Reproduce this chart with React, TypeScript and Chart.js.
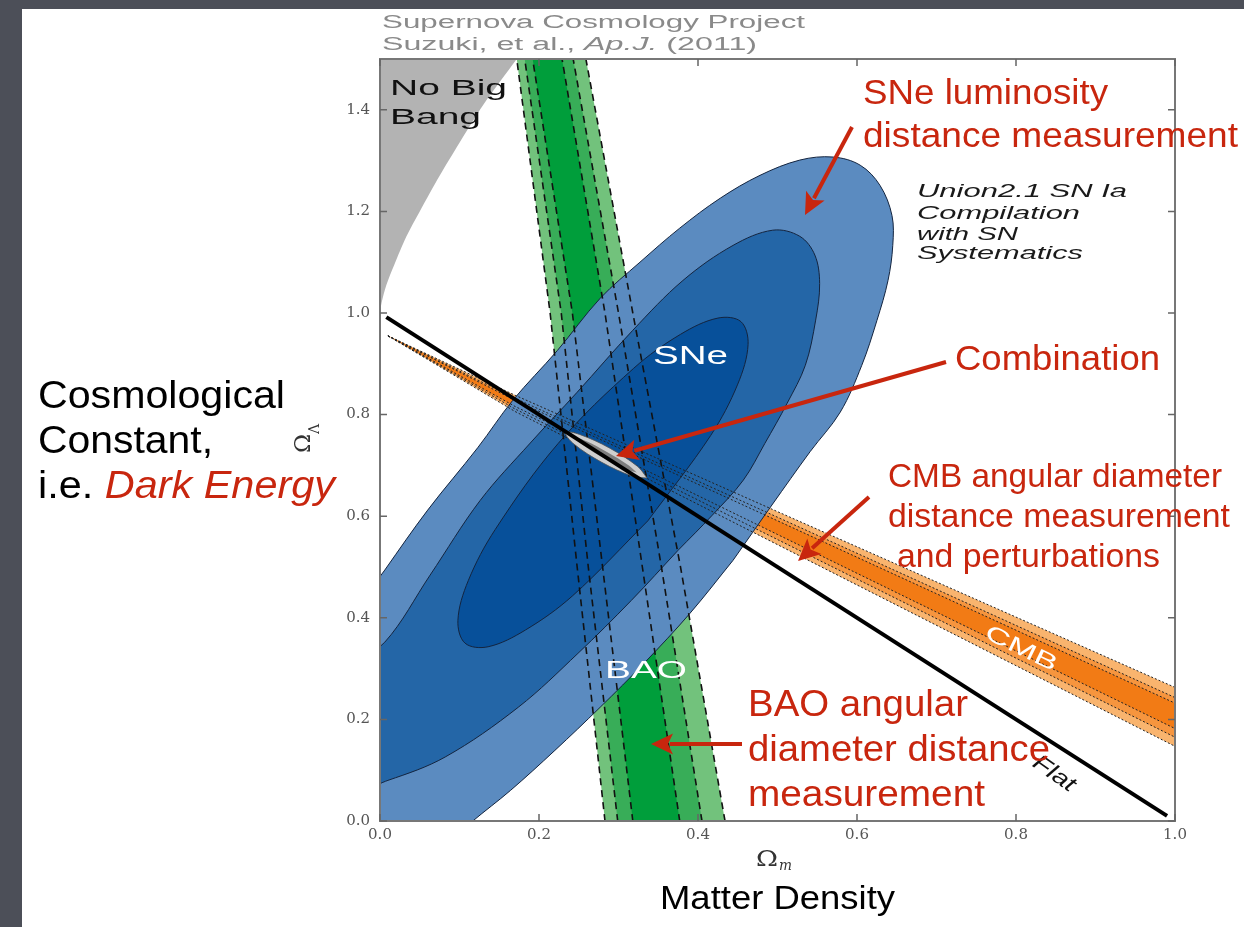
import React, { useEffect, useRef } from "react";
import { Chart, registerables } from "chart.js";

Chart.register(...registerables);

// ---- axis ticks ----
const xTickValues = [0, 0.2, 0.4, 0.6, 0.8, 1.0];
const yTickValues = [0, 0.2, 0.4, 0.6, 0.8, 1.0, 1.2, 1.4];

// ---- "No Big Bang" region boundary (Ωm, ΩΛ) ----
const noBigBang: number[][] = [
  [0, 1.0], [0.002, 1.02], [0.008, 1.055], [0.018, 1.095], [0.033, 1.15], [0.05, 1.2],
  [0.075, 1.27], [0.1, 1.335], [0.13, 1.41], [0.172, 1.5], [0.19, 1.54], [-0.02, 1.54], [-0.02, 1.0], [0, 1.0],
];

// ---- BAO band boundaries: Ωm at given ΩΛ levels ----
const baoLambda = [0, 0.5, 1.0, 1.5];
const baoLeft99 = [0.283, 0.248, 0.214, 0.172];
const baoLeft95 = [0.299, 0.262, 0.228, 0.182];
const baoLeft68 = [0.318, 0.280, 0.242, 0.192];
const baoRight68 = [0.377, 0.330, 0.283, 0.229];
const baoRight95 = [0.405, 0.354, 0.300, 0.243];
const baoRight99 = [0.434, 0.378, 0.318, 0.259];

// ---- CMB band boundaries: ΩΛ at given Ωm levels ----
const cmbMatter = [0.01, 0.17, 0.5, 1.0];
const cmbUpper99 = [0.955, 0.838, 0.609, 0.263];
const cmbUpper95 = [0.955, 0.832, 0.598, 0.243];
const cmbUpper68 = [0.955, 0.828, 0.591, 0.232];
const cmbLower68 = [0.955, 0.816, 0.564, 0.182];
const cmbLower95 = [0.955, 0.811, 0.554, 0.165];
const cmbLower99 = [0.955, 0.806, 0.544, 0.147];

// ---- SNe contours (Ωm, ΩΛ) ----
const snOuter: number[][] = [
  [0.444, 0.513], [0.390, 0.409], [0.333, 0.312], [0.277, 0.224], [0.220, 0.139], [0.164, 0.060],
  [0.116, -0.001], [0.075, -0.058], [-0.038, -0.077], [-0.063, 0.238], [-0.038, 0.395], [0.006, 0.494],
  [0.060, 0.612], [0.123, 0.735], [0.167, 0.828], [0.223, 0.926], [0.277, 1.029], [0.327, 1.100],
  [0.377, 1.167], [0.428, 1.226], [0.478, 1.271], [0.528, 1.301], [0.570, 1.307], [0.604, 1.291],
  [0.629, 1.251], [0.644, 1.192], [0.645, 1.133], [0.639, 1.064], [0.625, 0.985], [0.606, 0.897],
  [0.579, 0.805], [0.541, 0.727], [0.493, 0.622], [0.444, 0.513],
];
const snMiddle: number[][] = [
  [0.375, 0.533], [0.316, 0.434], [0.249, 0.330], [0.174, 0.224], [0.082, 0.126], [0.010, 0.080],
  [-0.038, 0.061], [-0.063, 0.179], [-0.044, 0.297], [0.006, 0.352], [0.063, 0.484], [0.126, 0.631],
  [0.189, 0.744], [0.248, 0.844], [0.318, 0.966], [0.381, 1.064], [0.444, 1.133], [0.494, 1.163],
  [0.528, 1.151], [0.547, 1.114], [0.553, 1.058], [0.548, 0.986], [0.535, 0.897], [0.512, 0.822],
  [0.484, 0.743], [0.457, 0.671], [0.418, 0.602], [0.375, 0.533],
];
const snInner: number[][] = [
  [0.337, 0.591], [0.242, 0.443], [0.183, 0.376], [0.136, 0.343], [0.107, 0.350], [0.098, 0.395],
  [0.111, 0.473], [0.145, 0.574], [0.224, 0.743], [0.319, 0.891], [0.378, 0.958], [0.425, 0.990],
  [0.454, 0.983], [0.463, 0.938], [0.450, 0.860], [0.416, 0.759], [0.337, 0.591],
];

// ---- combined constraint contours ----
const combOuter: number[][] = [
  [0.336, 0.675], [0.317, 0.679], [0.279, 0.706], [0.244, 0.742], [0.233, 0.765],
  [0.251, 0.761], [0.289, 0.734], [0.324, 0.698], [0.336, 0.675],
];
const combInner: number[][] = [
  [0.323, 0.686], [0.310, 0.692], [0.282, 0.714], [0.256, 0.739], [0.246, 0.754],
  [0.259, 0.748], [0.286, 0.726], [0.313, 0.700], [0.323, 0.686],
];

// ---- flat universe line ----
const flatLine: number[][] = [[0.008, 0.992], [0.99, 0.01]];

// ---- helpers to build library data ----
const toXY = (pts: number[][]) => pts.map(([x, y]) => ({ x, y }));
const bandV = (left: number[], right: number[]) => [
  ...baoLambda.map((l, i) => ({ x: left[i], y: l })),
  ...baoLambda.map((l, i) => ({ x: right[i], y: l })).reverse(),
];
const bandH = (upper: number[], lower: number[]) => [
  ...cmbMatter.map((m, i) => ({ x: m, y: upper[i] })),
  ...cmbMatter.map((m, i) => ({ x: m, y: lower[i] })).reverse(),
];
const lineV = (arr: number[]) => baoLambda.map((l, i) => ({ x: arr[i], y: l }));
const lineH = (arr: number[]) => cmbMatter.map((m, i) => ({ x: m, y: arr[i] }));

const area = (data: any[], color: string, extra: any = {}) => ({
  data, showLine: true, fill: "shape", backgroundColor: color, borderColor: color,
  borderWidth: 0, pointRadius: 0, tension: 0, ...extra,
});
const stroke = (data: any[], color: string, width: number, dash: number[], extra: any = {}) => ({
  data, showLine: true, fill: false, borderColor: color, borderWidth: width,
  borderDash: dash, pointRadius: 0, tension: 0, ...extra,
});

const SANS = '"Liberation Sans", Arial, Helvetica, sans-serif';
const SERIF = '"DejaVu Serif", serif';
const RED = "#c8260e";

type Seg = { t: string; font: string; color: string };
function fitText(ctx: CanvasRenderingContext2D, segs: Seg[], x: number, y: number, width: number) {
  ctx.save();
  let total = 0;
  const ws = segs.map((s) => {
    ctx.font = s.font;
    const w = ctx.measureText(s.t).width;
    total += w;
    return w;
  });
  ctx.translate(x, y);
  ctx.scale(width / total, 1);
  ctx.textAlign = "left";
  ctx.textBaseline = "alphabetic";
  let cx = 0;
  segs.forEach((s, i) => {
    ctx.font = s.font;
    ctx.fillStyle = s.color;
    ctx.fillText(s.t, cx, 0);
    cx += ws[i];
  });
  ctx.restore();
}
function fitTextRot(ctx: CanvasRenderingContext2D, s: Seg, cx: number, cy: number, width: number, ang: number) {
  ctx.save();
  ctx.font = s.font;
  const w = ctx.measureText(s.t).width;
  ctx.translate(cx, cy);
  ctx.rotate(ang);
  ctx.scale(width / w, 1);
  ctx.textAlign = "left";
  ctx.textBaseline = "middle";
  ctx.fillStyle = s.color;
  ctx.fillText(s.t, -w / 2, 0);
  ctx.restore();
}
function arrow(ctx: CanvasRenderingContext2D, x1: number, y1: number, x2: number, y2: number) {
  const ang = Math.atan2(y2 - y1, x2 - x1);
  const hl = 22, hw = 21;
  const bx = x2 - hl * Math.cos(ang), by = y2 - hl * Math.sin(ang);
  ctx.save();
  ctx.strokeStyle = RED;
  ctx.fillStyle = RED;
  ctx.lineWidth = 4;
  ctx.beginPath();
  ctx.moveTo(x1, y1);
  ctx.lineTo(bx + 3 * Math.cos(ang), by + 3 * Math.sin(ang));
  ctx.stroke();
  ctx.beginPath();
  ctx.moveTo(x2, y2);
  ctx.lineTo(bx + (hw / 2) * Math.sin(ang), by - (hw / 2) * Math.cos(ang));
  ctx.lineTo(bx + 5 * Math.cos(ang), by + 5 * Math.sin(ang));
  ctx.lineTo(bx - (hw / 2) * Math.sin(ang), by + (hw / 2) * Math.cos(ang));
  ctx.closePath();
  ctx.fill();
  ctx.restore();
}

const decor = {
  id: "decor",
  beforeDraw(chart: any) {
    const ctx = chart.ctx as CanvasRenderingContext2D;
    ctx.save();
    ctx.fillStyle = "#4c4f58";
    ctx.fillRect(0, 0, chart.width, chart.height);
    ctx.fillStyle = "#ffffff";
    ctx.fillRect(22, 9, chart.width - 22, chart.height - 9);
    ctx.restore();
  },
  afterDraw(chart: any) {
    const ctx = chart.ctx as CanvasRenderingContext2D;
    const { left, right, top, bottom } = chart.chartArea;
    const xs = chart.scales.x, ys = chart.scales.y;
    ctx.save();
    // frame
    ctx.strokeStyle = "#777";
    ctx.lineWidth = 2;
    ctx.strokeRect(left, top, right - left, bottom - top);
    // inward ticks
    ctx.lineWidth = 1.5;
    ctx.strokeStyle = "#666";
    ctx.beginPath();
    xTickValues.forEach((v) => {
      const p = xs.getPixelForValue(v);
      ctx.moveTo(p, bottom); ctx.lineTo(p, bottom - 7);
      ctx.moveTo(p, top); ctx.lineTo(p, top + 7);
    });
    yTickValues.forEach((v) => {
      const p = ys.getPixelForValue(v);
      ctx.moveTo(left, p); ctx.lineTo(left + 7, p);
      ctx.moveTo(right, p); ctx.lineTo(right - 7, p);
    });
    ctx.stroke();
    ctx.restore();

    // axis titles
    ctx.save();
    ctx.fillStyle = "#333";
    ctx.translate(310, 453);
    ctx.rotate(-Math.PI / 2);
    ctx.font = `23px ${SERIF}`;
    ctx.fillText("Ω", 0, 0);
    const wO = ctx.measureText("Ω").width;
    ctx.font = `14px ${SERIF}`;
    ctx.fillText("Λ", wO, 9);
    ctx.restore();
    fitText(ctx, [{ t: "Ω", font: `23px ${SERIF}`, color: "#333" }], 756, 866, 22);
    fitText(ctx, [{ t: "m", font: `italic 15px ${SERIF}`, color: "#333" }], 779, 870, 13);

    // figure texts
    const gray = "#8a8a8a";
    fitText(ctx, [{ t: "Supernova Cosmology Project", font: `18px ${SANS}`, color: gray }], 382, 28, 423);
    fitText(ctx, [
      { t: "Suzuki, et al., ", font: `18px ${SANS}`, color: gray },
      { t: "Ap.J.", font: `italic 18px ${SANS}`, color: gray },
      { t: " (2011)", font: `18px ${SANS}`, color: gray },
    ], 382, 50, 375);
    fitText(ctx, [{ t: "No Big", font: `22px ${SANS}`, color: "#111" }], 390, 95, 117);
    fitText(ctx, [{ t: "Bang", font: `22px ${SANS}`, color: "#111" }], 390, 124, 91);
    const it = `italic 18px ${SANS}`;
    fitText(ctx, [{ t: "Union2.1 SN Ia", font: it, color: "#1a1a1a" }], 917, 197, 210);
    fitText(ctx, [{ t: "Compilation", font: it, color: "#1a1a1a" }], 917, 219, 163);
    fitText(ctx, [{ t: "with SN", font: it, color: "#1a1a1a" }], 917, 240, 101);
    fitText(ctx, [{ t: "Systematics", font: it, color: "#1a1a1a" }], 917, 259, 166);
    fitText(ctx, [{ t: "SNe", font: `26px ${SANS}`, color: "#ffffff" }], 653, 364, 75);
    fitText(ctx, [{ t: "BAO", font: `24px ${SANS}`, color: "#ffffff" }], 605, 678, 82);
    fitTextRot(ctx, { t: "CMB", font: `22px ${SANS}`, color: "#ffffff" }, 1021, 649, 78, (26 * Math.PI) / 180);
    fitTextRot(ctx, { t: "Flat", font: `italic 22px ${SANS}`, color: "#111" }, 1054, 774, 47, (35 * Math.PI) / 180);

    // slide annotations
    fitText(ctx, [{ t: "SNe luminosity", font: `35px ${SANS}`, color: RED }], 863, 104, 245);
    fitText(ctx, [{ t: "distance measurement", font: `35px ${SANS}`, color: RED }], 863, 147, 375);
    fitText(ctx, [{ t: "Combination", font: `35px ${SANS}`, color: RED }], 955, 370, 205);
    fitText(ctx, [{ t: "CMB angular diameter", font: `33px ${SANS}`, color: RED }], 888, 487, 334);
    fitText(ctx, [{ t: "distance measurement", font: `33px ${SANS}`, color: RED }], 888, 527, 342);
    fitText(ctx, [{ t: "and perturbations", font: `33px ${SANS}`, color: RED }], 897, 567, 263);
    fitText(ctx, [{ t: "BAO angular", font: `36px ${SANS}`, color: RED }], 748, 716, 220);
    fitText(ctx, [{ t: "diameter distance", font: `36px ${SANS}`, color: RED }], 748, 761, 302);
    fitText(ctx, [{ t: "measurement", font: `36px ${SANS}`, color: RED }], 748, 806, 237);
    fitText(ctx, [{ t: "Cosmological", font: `38px ${SANS}`, color: "#000" }], 38, 408, 247);
    fitText(ctx, [{ t: "Constant,", font: `38px ${SANS}`, color: "#000" }], 38, 453, 175);
    fitText(ctx, [
      { t: "i.e. ", font: `38px ${SANS}`, color: "#000" },
      { t: "Dark Energy", font: `italic 38px ${SANS}`, color: RED },
    ], 38, 498, 297);
    fitText(ctx, [{ t: "Matter Density", font: `34px ${SANS}`, color: "#000" }], 660, 909, 235);

    arrow(ctx, 852, 127, 805, 215);
    arrow(ctx, 946, 362, 616, 456);
    arrow(ctx, 869, 497, 798, 561);
    arrow(ctx, 742, 744, 651, 744);
  },
};

export default function App() {
  const ref = useRef<HTMLCanvasElement>(null);
  useEffect(() => {
    document.body.style.margin = "0";
    const edge = "#13243f";
    const layers: any[] = [
      area(toXY(noBigBang), "#b3b3b3", { tension: 0.3 }),
      area(bandV(baoLeft99, baoRight99), "#72c27c"),
      area(bandV(baoLeft95, baoRight95), "#38ad58"),
      area(bandV(baoLeft68, baoRight68), "#009e3b"),
      area(bandH(cmbUpper99, cmbLower99), "#f9b46e"),
      area(bandH(cmbUpper95, cmbLower95), "#f6953e"),
      area(bandH(cmbUpper68, cmbLower68), "#f27b15"),
      area(toXY(snOuter), "#5b8bc0", { borderColor: edge, borderWidth: 1, tension: 0.35 }),
      area(toXY(snMiddle), "#2466a7", { borderColor: edge, borderWidth: 1, tension: 0.35 }),
      area(toXY(snInner), "#07509a", { borderColor: edge, borderWidth: 1, tension: 0.35 }),
      ...[baoLeft99, baoLeft95, baoLeft68, baoRight68, baoRight95, baoRight99].map((a) =>
        stroke(lineV(a), "#111", 1.6, [7, 5])
      ),
      ...[cmbUpper99, cmbUpper95, cmbUpper68, cmbLower68, cmbLower95, cmbLower99].map((a) =>
        stroke(lineH(a), "#222", 1, [2, 2])
      ),
      area(toXY(combOuter), "#cfcfcf", { borderColor: "#555", borderWidth: 0.8, tension: 0.35 }),
      area(toXY(combInner), "#7d7d7d", { tension: 0.35 }),
      stroke(toXY(flatLine), "#000", 4, []),
    ];
    const datasets = layers.map((d, i) => ({ ...d, order: layers.length - i }));
    const tickFont = { family: SERIF, size: 15 };
    const chart = new Chart(ref.current as HTMLCanvasElement, {
      type: "scatter",
      data: { datasets },
      options: {
        animation: false,
        responsive: false,
        events: [],
        layout: { padding: { left: 330, right: 69, top: 59, bottom: 66 } },
        plugins: { legend: { display: false }, tooltip: { enabled: false }, title: { display: false } },
        elements: { point: { radius: 0 }, line: { capBezierPoints: false } },
        scales: {
          x: {
            type: "linear", min: 0, max: 1,
            grid: { display: false, drawTicks: false },
            border: { display: false },
            afterBuildTicks: (s: any) => { s.ticks = xTickValues.map((v) => ({ value: v })); },
            afterFit: (s: any) => { s.height = 40; },
            ticks: { callback: (v: any) => Number(v).toFixed(1), font: tickFont, color: "#555", padding: 5, maxRotation: 0, autoSkip: false },
          },
          y: {
            type: "linear", min: 0, max: 1.5,
            grid: { display: false, drawTicks: false },
            border: { display: false },
            afterBuildTicks: (s: any) => { s.ticks = yTickValues.map((v) => ({ value: v })); },
            afterFit: (s: any) => { s.width = 50; },
            ticks: { callback: (v: any) => Number(v).toFixed(1), font: tickFont, color: "#555", padding: 10, autoSkip: false },
          },
        },
      } as any,
      plugins: [decor],
    });
    return () => chart.destroy();
  }, []);
  return <canvas ref={ref} width={1244} height={927} style={{ display: "block", width: "1244px", height: "927px" }} />;
}
